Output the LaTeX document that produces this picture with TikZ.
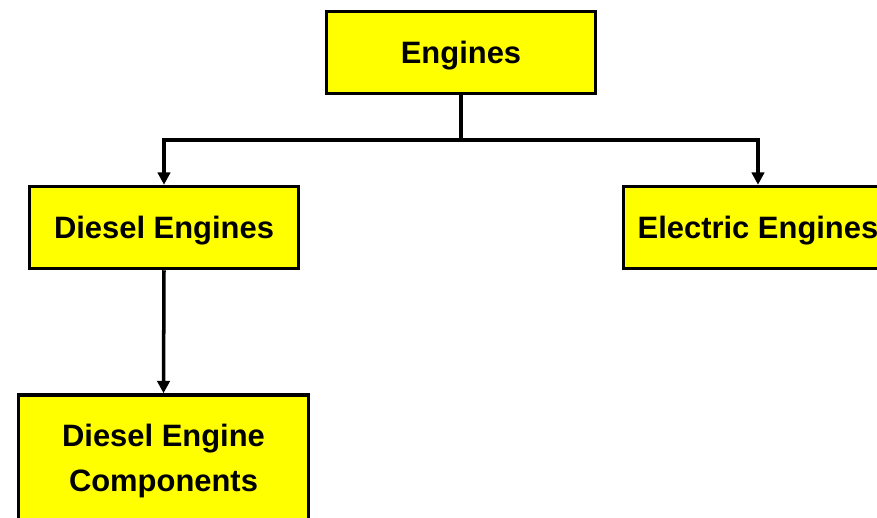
\documentclass[tikz,border=0pt]{standalone}
\usepackage{fontspec}
\setmainfont{Liberation Sans}
\usetikzlibrary{arrows,arrows.meta}
\usetikzlibrary{positioning}
\definecolor{boxyellow}{RGB}{255,255,0}
\tikzset{%
  engbox/.style={draw=black, fill=boxyellow, line width=2pt, inner sep=0pt,
    minimum width=5.38cm, minimum height=1.64cm, align=center,
    text depth=0pt, font=\fontsize{17.6}{25.5}\selectfont\bfseries},
  link/.style={line width=2pt},
  arrowlink/.style={link, -{Triangle[length=7pt, width=7pt]}}
}

\begin{document}
\begin{tikzpicture}[x=0.02cm, y=-0.02cm]
      % \draw[step=50, gray, very thin] (0, 0) grid (877, 518);
      \useasboundingbox (0, 0) rectangle (877, 518);

      \node[engbox] (engines) at (461, 52.5) {Engines};
      \node[engbox] (diesel) at (164, 227.5) {Diesel Engines};
      \node[engbox] (electric) at (758, 227.5) {Electric Engines};
      \node[engbox, minimum width=5.8cm, minimum height=2.52cm]
        (parts) at (163.5, 458) {Diesel Engine\\Components};

      \coordinate (split) at (461, 140);
      \draw[link] (engines.south) -- (split);
      \draw[arrowlink] (split) -| (diesel.north);
      \draw[arrowlink] (split) -| (electric.north);
      \draw[arrowlink] (diesel.south) -- (parts.north);

    \end{tikzpicture}
\end{document}
